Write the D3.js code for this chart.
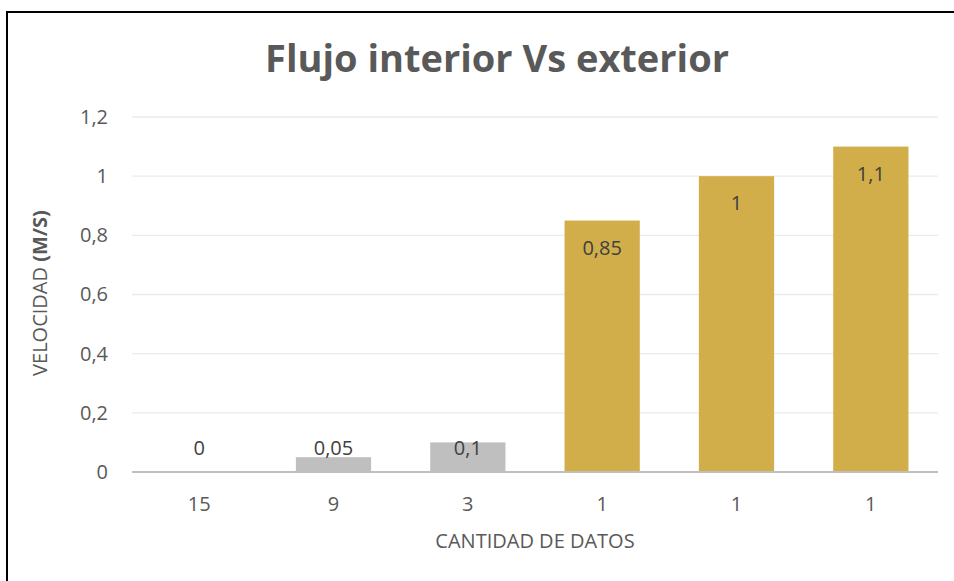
<!DOCTYPE html>
<html><head><meta charset="utf-8">
<script src="https://cdn.jsdelivr.net/npm/d3@7"></script>
<style>body{margin:0;background:#fff;} svg{display:block;}</style>
</head><body>
<svg id="c" width="954" height="581"></svg>
<script>
const categories = ["15", "9", "3", "1", "1", "1"];
const values = [0, 0.05, 0.1, 0.85, 1, 1.1];
const valueLabels = ["0", "0,05", "0,1", "0,85", "1", "1,1"];
const groups = ["gris", "gris", "gris", "oro", "oro", "oro"];
const yTicks = [0, 0.2, 0.4, 0.6, 0.8, 1, 1.2];
const yTickLabels = ["0", "0,2", "0,4", "0,6", "0,8", "1", "1,2"];
const title = "Flujo interior Vs exterior";
const xTitle = "CANTIDAD DE DATOS";

const svg = d3.select("#c");
const font = "'Open Sans', 'Noto Sans', sans-serif";
const M = {left:132, right:938, top:117, bottom:472};

// frame
svg.append("rect").attr("x",7).attr("y",12).attr("width",1100).attr("height",800)
  .attr("fill","none").attr("stroke","#000").attr("stroke-width",2);

const x = d3.scaleBand().domain(d3.range(categories.length)).range([M.left, M.right]).paddingInner(0.44).paddingOuter(0.22);
const y = d3.scaleLinear().domain([0,1.2]).range([M.bottom, M.top]);
const color = d3.scaleOrdinal().domain(["gris","oro"]).range(["#BFBFBF","#D1AE4A"]);

// gridlines
svg.append("g").selectAll("line").data(yTicks.filter(d=>d>0)).join("line")
  .attr("x1",M.left).attr("x2",M.right).attr("y1",d=>y(d)).attr("y2",d=>y(d))
  .attr("stroke","#EBEBEB").attr("stroke-width",1.3);

// y tick labels via axis
const yAxis = d3.axisLeft(y).tickValues(yTicks).tickFormat((d,i)=>yTickLabels[i]).tickSize(0).tickPadding(24);
const gy = svg.append("g").attr("transform",`translate(${M.left},0)`).call(yAxis);
gy.select(".domain").remove();
gy.selectAll("text").attr("font-family",font).attr("font-size",20).attr("fill","#595959");

// bars
svg.append("g").selectAll("rect").data(values).join("rect")
  .attr("x",(d,i)=>x(i)).attr("width",x.bandwidth())
  .attr("y",d=>y(d)).attr("height",d=>y(0)-y(d))
  .attr("fill",(d,i)=>color(groups[i]));

// axis line
svg.append("line").attr("x1",M.left).attr("x2",M.right).attr("y1",y(0)).attr("y2",y(0))
  .attr("stroke","#BFBFBF").attr("stroke-width",2.2);

// x tick labels
const xAxis = d3.axisBottom(x).tickFormat(i=>categories[i]).tickSize(0).tickPadding(25);
const gx = svg.append("g").attr("transform",`translate(0,${y(0)})`).call(xAxis);
gx.select(".domain").remove();
gx.selectAll("text").attr("font-family",font).attr("font-size",20).attr("fill","#595959");

// value labels
svg.append("g").selectAll("text").data(values).join("text")
  .attr("x",(d,i)=>x(i)+x.bandwidth()/2)
  .attr("y",d=>Math.min(y(d)+27, y(0)-24))
  .attr("dy","0.35em").attr("text-anchor","middle")
  .attr("font-family",font).attr("font-size",20).attr("fill","#404040")
  .text((d,i)=>valueLabels[i]);

// title
svg.append("text").attr("x",497).attr("y",72).attr("text-anchor","middle")
  .attr("font-family",font).attr("font-weight","bold").attr("font-size",38).attr("fill","#595959")
  .text(title);

// x title
svg.append("text").attr("x",535).attr("y",541).attr("dy","0.35em").attr("text-anchor","middle")
  .attr("font-family",font).attr("font-size",20).attr("fill","#595959").text(xTitle);

// y title
const yt = svg.append("text").attr("transform","translate(40,293) rotate(-90)").attr("dy","0.35em")
  .attr("text-anchor","middle").attr("font-family",font).attr("font-size",20).attr("fill","#595959");
yt.append("tspan").text("VELOCIDAD ");
yt.append("tspan").attr("font-weight","bold").text("(M/S)");
</script>
</body></html>
